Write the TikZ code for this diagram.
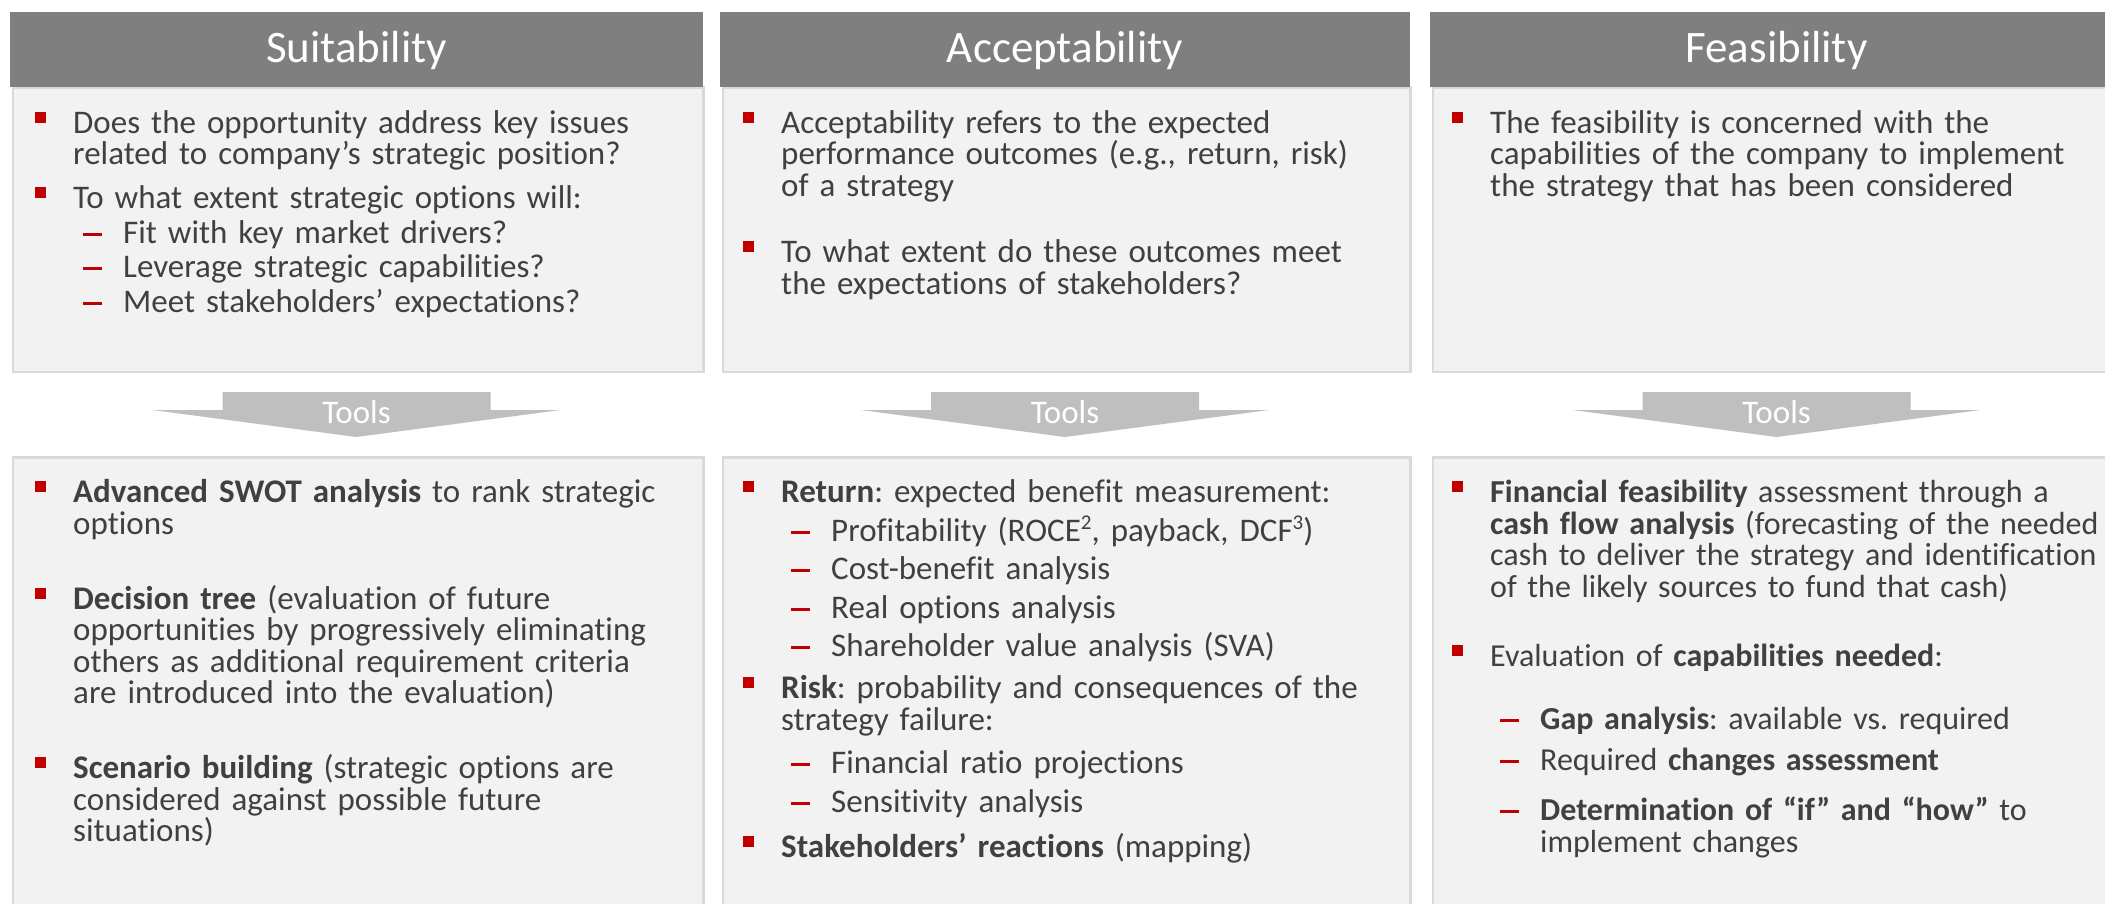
\documentclass[tikz,border=0pt]{standalone}
\usepackage{fontspec}
\setmainfont{Carlito}[Ligatures=NoCommon]

% Vinetas: cuadro rojo y raya roja
\newcommand{\punto}[2][0pt]{\par\vspace{#1}\parskip=0pt\lineskiplimit=-100pt\leftskip=0pt\noindent\rule{0pt}{27pt}\llap{\textcolor{rojo}{\rule[10.5pt]{11pt}{11pt}}\hspace{27pt}}#2\par}
\newcommand{\raya}[2][0pt]{\par\vspace{#1}\parskip=0pt\lineskiplimit=-100pt\leftskip=50pt\noindent\rule{0pt}{27pt}\llap{\textcolor{rojo}{\rule[7.5pt]{19pt}{3pt}}\hspace{21pt}}#2\par}
\newcommand{\exponente}[1]{\raisebox{12pt}{\fontsize{21}{21}\selectfont #1}}

\begin{document}
\begin{tikzpicture}[x=1pt, y=-1pt]
  % Definir colores
  \definecolor{cabecera}{RGB}{127, 127, 127}
  \definecolor{fondo}{RGB}{242, 242, 242}
  \definecolor{borde}{RGB}{217, 217, 217}
  \definecolor{flecha}{RGB}{191, 191, 191}
  \definecolor{rojo}{RGB}{192, 0, 0}
  \definecolor{tinta}{RGB}{64, 64, 64}

  % Configurar estilos
  \tikzset{
    cabeza/.style={fill=cabecera, text=white, font=\fontsize{45}{54}\selectfont, minimum height=75pt, text height=25pt, text depth=0pt, inner sep=0pt},
    caja/.style={fill=fondo, draw=borde, line width=2.5pt, anchor=north west, inner sep=0pt},
    texto/.style={anchor=north west, inner sep=0pt, text width=#1, text=tinta, font=\fontsize{33}{31.5}\selectfont\frenchspacing},
    herramienta/.style={text=white, font=\fontsize{33}{38}\selectfont, anchor=base, inner sep=0pt}
  }

  % Fondo y marco
  \fill[white] (0, 0) rectangle (2105, 903);
  \useasboundingbox (0, 0) rectangle (2105, 903);

  % Cajas superiores
  \node[caja, minimum width=690.5pt, minimum height=284.5pt] (bSuit) at (11.5, 86) {};
  \node[caja, minimum width=687.5pt, minimum height=284.5pt] (bAcep) at (721.5, 86) {};
  \node[caja, minimum width=690.5pt, minimum height=284.5pt] (bFact) at (1431.5, 86) {};

  % Cajas inferiores
  \node[caja, minimum width=690.5pt, minimum height=470pt] (iSuit) at (11.5, 456) {};
  \node[caja, minimum width=687.5pt, minimum height=470pt] (iAcep) at (721.5, 456) {};
  \node[caja, minimum width=690.5pt, minimum height=470pt] (iFact) at (1431.5, 456) {};

  % Encabezados de columnas
  \node[cabeza, minimum width=693pt] (cSuit) at (356.5, 49.5) {Suitability};
  \node[cabeza, minimum width=690pt] (cAcep) at (1065, 49.5) {Acceptability};
  \node[cabeza, minimum width=693pt] (cFact) at (1776.5, 49.5) {Feasibility};

  % Flechas de herramientas
  \foreach \cx/\nom in {356.5/Suit, 1065/Acep, 1776.5/Fact} {
    \fill[flecha] (\cx-134, 392) -- (\cx+134, 392) -- (\cx+134, 410) -- (\cx+204, 410)
      -- (\cx, 437) -- (\cx-204, 410) -- (\cx-134, 410) -- cycle;
    \node[herramienta] (h\nom) at (\cx, 423) {Tools};
  }

  % Textos superiores
  \node[texto=630pt] (tSuit) at (73, 101.5) {
    \punto{Does the opportunity address key issues\\related to company’s strategic position?}
    \punto[12.5pt]{To what extent strategic options will:}
    \raya[3pt]{Fit with key market drivers?}
    \raya[3pt]{Leverage strategic capabilities?}
    \raya[3pt]{Meet stakeholders’ expectations?}
  };
  \node[texto=630pt] (tAcep) at (781, 101.5) {
    \punto{Acceptability refers to the expected\\performance outcomes (e.g., return, risk)\\of a strategy}
    \punto[35pt]{To what extent do these outcomes meet\\the expectations of stakeholders?}
  };
  \node[texto=630pt] (tFact) at (1490, 101.5) {
    \punto{The feasibility is concerned with the\\capabilities of the company to implement\\the strategy that has been considered}
  };

  % Textos inferiores
  \node[texto=630pt] (uSuit) at (73, 471) {
    \punto{\textbf{Advanced SWOT analysis} to rank strategic\\options}
    \punto[43.5pt]{\textbf{Decision tree} (evaluation of future\\opportunities by progressively eliminating\\others as additional requirement criteria\\are introduced into the evaluation)}
    \punto[43.5pt]{\textbf{Scenario building} (strategic options are\\considered against possible future\\situations)}
  };
  \node[texto=630pt] (uAcep) at (781, 471) {
    \punto{\textbf{Return}: expected benefit measurement:}
    \raya[7pt]{Profitability (ROCE\exponente{2}, payback, DCF\exponente{3})}
    \raya[7pt]{Cost-benefit analysis}
    \raya[7pt]{Real options analysis}
    \raya[7pt]{Shareholder value analysis (SVA)}
    \punto[10.5pt]{\textbf{Risk}: probability and consequences of the\\strategy failure:}
    \raya[12pt]{Financial ratio projections}
    \raya[7pt]{Sensitivity analysis}
    \punto[14pt]{\textbf{Stakeholders’ reactions} (mapping)}
  };
  \node[texto=630pt, font=\fontsize{32}{31.5}\selectfont\frenchspacing] (uFact) at (1490, 471) {
    \punto{\textbf{Financial feasibility} assessment through a\\\textbf{cash flow analysis} (forecasting of the needed\\cash to deliver the strategy and identification\\of the likely sources to fund that cash)}
    \punto[38pt]{Evaluation of \textbf{capabilities needed}:}
    \raya[31pt]{\textbf{Gap analysis}: available vs. required}
    \raya[9.5pt]{Required \textbf{changes assessment}}
    \raya[19pt]{\textbf{Determination of “if” and “how”} to\\implement changes}
  };
\end{tikzpicture}
\end{document}
